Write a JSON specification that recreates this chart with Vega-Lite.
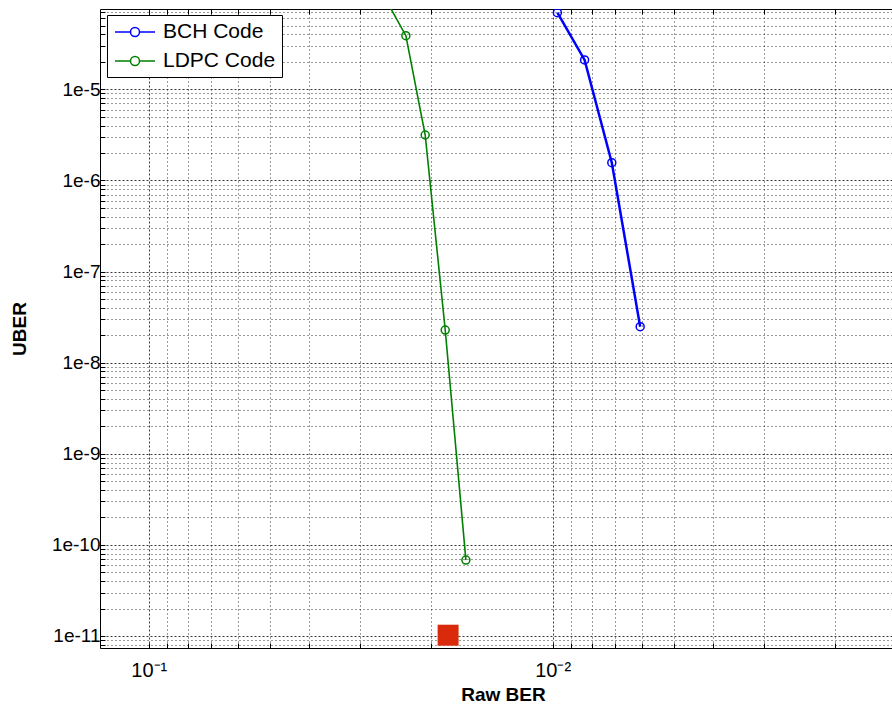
{
  "$schema": "https://vega.github.io/schema/vega-lite/v6.json",
  "width": 792,
  "height": 639,
  "autosize": {"type": "none"},
  "padding": {"left": 100, "top": 9, "right": 0, "bottom": 56},
  "background": "white",
  "config": {
    "view": {"stroke": null},
    "font": "Liberation Sans"
  },
  "datasets": {
    "curves": [
      {"series": "BCH Code", "ber": 0.009736, "uber": 6.93e-5},
      {"series": "BCH Code", "ber": 0.008337, "uber": 2.1e-5},
      {"series": "BCH Code", "ber": 0.007139, "uber": 1.564e-6},
      {"series": "BCH Code", "ber": 0.006073, "uber": 2.48e-8},
      {"series": "LDPC Code", "ber": 0.026, "uber": 1e-4},
      {"series": "LDPC Code", "ber": 0.02309, "uber": 3.88e-5},
      {"series": "LDPC Code", "ber": 0.02068, "uber": 3.15e-6},
      {"series": "LDPC Code", "ber": 0.01845, "uber": 2.28e-8},
      {"series": "LDPC Code", "ber": 0.0164, "uber": 6.81e-11}
    ],
    "marker": [{"ber": 0.01815, "uber": 1.02e-11}]
  },
  "resolve": {"axis": {"x": "independent"}},
  "layer": [
    {
      "data": {"name": "marker"},
      "mark": {"type": "square", "color": "#d92b0c", "size": 440, "filled": true, "opacity": 1},
      "encoding": {
        "x": {
          "field": "ber", "type": "quantitative",
          "scale": {"type": "log", "domain": [0.0014456, 0.132], "reverse": true, "nice": false},
          "axis": {
            "orient": "bottom",
            "title": "Raw BER",
            "values": [0.002, 0.003, 0.004, 0.005, 0.006, 0.007, 0.008, 0.009, 0.01, 0.02, 0.03, 0.04, 0.05, 0.06, 0.07, 0.08, 0.09, 0.1],
            "labelExpr": "datum.value == 0.1 ? '10\u207b\u00b9' : (datum.value == 0.01 ? '10\u207b\u00b2' : '')",
            "labelOverlap": false,
            "labelFlush": false,
            "labelFontSize": 20,
            "labelColor": "#000",
            "labelPadding": 17,
            "grid": true, "gridColor": "#222", "gridOpacity": 0.9, "gridWidth": 1,
            "gridDash": {"condition": {"test": "datum.value == 0.1 || datum.value == 0.01", "value": [2, 2]}, "value": [1, 3]},
            "domain": true, "domainColor": "#000", "domainWidth": 1,
            "ticks": true, "tickSize": -5, "tickColor": "#000", "tickWidth": 1,
            "titleFontSize": 19, "titleFontWeight": "bold", "titleColor": "#000",
            "titleX": 403, "titleY": 52, "titleAlign": "center", "titleBaseline": "alphabetic"
          }
        },
        "y": {
          "field": "uber", "type": "quantitative",
          "scale": {"type": "log", "domain": [7.38e-12, 7.61e-5], "nice": false},
          "axis": {
            "orient": "left",
            "title": "UBER",
            "values": [8e-12, 9e-12, 1e-11, 2e-11, 3e-11, 4e-11, 5e-11, 6e-11, 7e-11, 8e-11, 9e-11, 1e-10, 2e-10, 3e-10, 4e-10, 5e-10, 6e-10, 7e-10, 8e-10, 9e-10, 1e-9, 2e-9, 3e-9, 4e-9, 5e-9, 6e-9, 7e-9, 8e-9, 9e-9, 1e-8, 2e-8, 3e-8, 4e-8, 5e-8, 6e-8, 7e-8, 8e-8, 9e-8, 1e-7, 2e-7, 3e-7, 4e-7, 5e-7, 6e-7, 7e-7, 8e-7, 9e-7, 1e-6, 2e-6, 3e-6, 4e-6, 5e-6, 6e-6, 7e-6, 8e-6, 9e-6, 1e-5, 2e-5, 3e-5, 4e-5, 5e-5, 6e-5, 7e-5],
            "format": ".0e",
            "labelExpr": "substring(datum.label, 0, 2) == '1e' ? datum.label : ''",
            "labelOverlap": false,
            "labelFontSize": 19,
            "labelColor": "#000",
            "labelPadding": 5,
            "grid": true, "gridColor": "#222", "gridOpacity": 0.9, "gridWidth": 1,
            "gridDash": {"condition": {"test": "substring(format(datum.value, '.0e'), 0, 2) == '1e'", "value": [2, 2]}, "value": [1, 3]},
            "domain": true, "domainColor": "#000", "domainWidth": 1,
            "ticks": true, "tickSize": -5, "tickColor": "#000", "tickWidth": 1,
            "titleFontSize": 19, "titleFontWeight": "bold", "titleColor": "#000",
            "titleAngle": 270, "titleX": -75, "titleY": 319.5, "titleAlign": "center", "titleBaseline": "alphabetic"
          }
        }
      }
    },
    {
      "data": {"name": "curves"},
      "transform": [{"filter": "datum.series == 'BCH Code'"}],
      "mark": {"type": "line", "clip": true, "strokeWidth": 2.5},
      "encoding": {
        "x": {
          "field": "ber", "type": "quantitative",
          "axis": {
            "orient": "top",
            "title": null,
            "values": [0.002, 0.003, 0.004, 0.005, 0.006, 0.007, 0.008, 0.009, 0.01, 0.02, 0.03, 0.04, 0.05, 0.06, 0.07, 0.08, 0.09, 0.1],
            "labels": false,
            "grid": false,
            "domain": true, "domainColor": "#000", "domainWidth": 1,
            "ticks": true, "tickSize": -5, "tickColor": "#000", "tickWidth": 1
          }
        },
        "y": {"field": "uber", "type": "quantitative"},
        "color": {
          "field": "series", "type": "nominal",
          "scale": {"domain": ["BCH Code", "LDPC Code"], "range": ["#0000ff", "#008000"]},
          "legend": {
            "orient": "none", "legendX": 7, "legendY": 6,
            "title": null,
            "symbolType": "M-2,0H-0.45M0.45,0H2M0.45,0A0.45,0.45,0,1,1,-0.45,0A0.45,0.45,0,1,1,0.45,0",
            "symbolSize": 400,
            "symbolStrokeWidth": 1.5,
            "symbolFillColor": "transparent",
            "symbolOffset": 11,
            "labelFontSize": 21,
            "labelFont": "Liberation Sans",
            "labelColor": "#000",
            "labelOffset": 17,
            "strokeColor": "#000",
            "fillColor": "#fff",
            "padding": 6,
            "rowPadding": 8
          }
        }
      }
    },
    {
      "data": {"name": "curves"},
      "transform": [{"filter": "datum.series == 'LDPC Code'"}],
      "mark": {"type": "line", "clip": true, "strokeWidth": 1.6},
      "encoding": {
        "x": {"field": "ber", "type": "quantitative", "axis": null},
        "y": {"field": "uber", "type": "quantitative"},
        "color": {"field": "series", "type": "nominal"}
      }
    },
    {
      "data": {"name": "curves"},
      "mark": {"type": "point", "shape": "circle", "filled": false, "size": 64, "strokeWidth": 1.5, "clip": true, "opacity": 1},
      "encoding": {
        "x": {"field": "ber", "type": "quantitative", "axis": null},
        "y": {"field": "uber", "type": "quantitative"},
        "color": {"field": "series", "type": "nominal"}
      }
    }
  ]
}
